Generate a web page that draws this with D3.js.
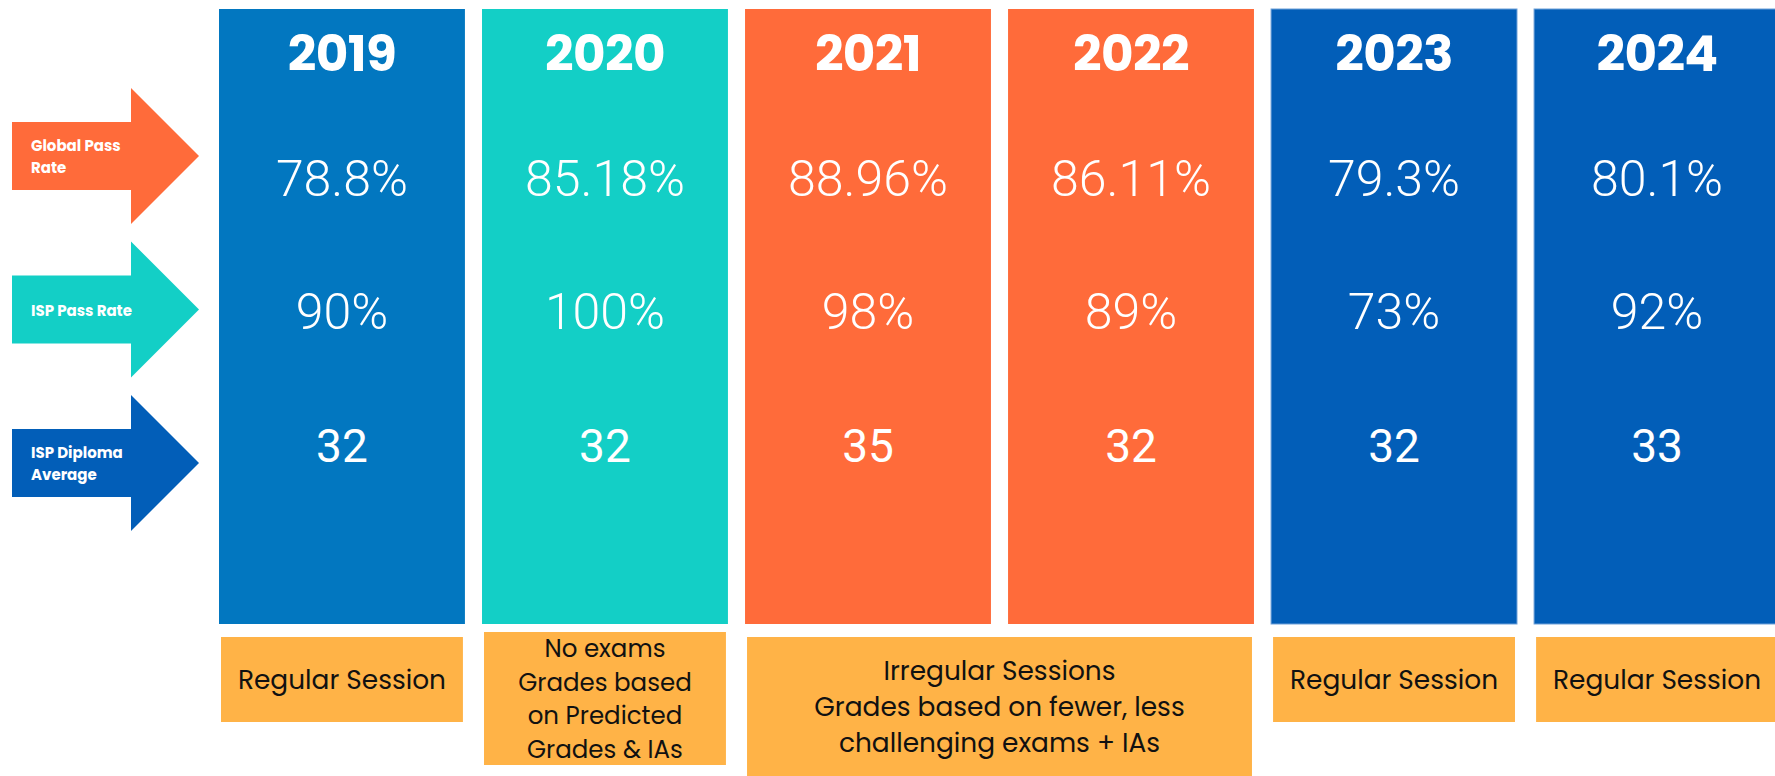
<!DOCTYPE html>
<html>
<head>
<meta charset="utf-8">
<script src="https://cdn.jsdelivr.net/npm/d3@7"></script>
<style>
  body { margin: 0; background: #fff; }
</style>
</head>
<body>
<div id="chart"></div>
<script>
// Data
const years = ["2019", "2020", "2021", "2022", "2023", "2024"];
const globalPassRate = [78.8, 85.18, 88.96, 86.11, 79.3, 80.1];
const ispPassRate = [90, 100, 98, 89, 73, 92];
const diplomaAverage = [32, 32, 35, 32, 32, 33];

const metrics = ["Global Pass Rate", "ISP Pass Rate", "ISP Diploma Average"];
const metricLines = [["Global Pass", "Rate"], ["ISP Pass Rate"], ["ISP Diploma", "Average"]];

const sessions = [
  { years: ["2019"], lines: ["Regular Session"] },
  { years: ["2020"], lines: ["No exams", "Grades based", "on Predicted", "Grades & IAs"] },
  { years: ["2021", "2022"], lines: ["Irregular Sessions", "Grades based on fewer, less", "challenging exams + IAs"] },
  { years: ["2023"], lines: ["Regular Session"] },
  { years: ["2024"], lines: ["Regular Session"] },
];

const yearColors = ["#0277c0", "#13cfc6", "#ff6b3a", "#ff6b3a", "#025eb8", "#025eb8"];
const metricColors = ["#ff6b3a", "#13cfc6", "#025eb8"];

// Dimensions
const dimensions = { width: 1775, height: 776 };

const svg = d3
  .select("#chart")
  .append("svg")
  .attr("width", dimensions.width)
  .attr("height", dimensions.height)
  .style("display", "block");

// Scales
const xScale = d3.scaleBand().domain(years).range([219, 1780]).paddingInner(0.065);
const rowScale = d3.scalePoint().domain(metrics).range([196, 462]);
const arrowScale = d3.scalePoint().domain(metrics).range([156, 463]);

const colTop = 9;
const colBottom = 624;

// Year columns
const cols = svg
  .selectAll("g.col")
  .data(years)
  .join("g")
  .attr("class", "col")
  .attr("transform", (d) => `translate(${xScale(d)},0)`);

cols
  .append("rect")
  .attr("y", colTop)
  .attr("width", xScale.bandwidth())
  .attr("height", colBottom - colTop)
  .attr("fill", (d, i) => yearColors[i])
  .attr("stroke", (d, i) => (i >= 4 ? "#6d9fd8" : "none"))
  .attr("stroke-width", 1);

cols
  .append("text")
  .attr("x", xScale.bandwidth() / 2)
  .attr("y", 71)
  .attr("text-anchor", "middle")
  .attr("fill", "#fff")
  .style("font-family", "Poppins, Roboto, sans-serif")
  .style("font-weight", 700)
  .style("font-size", "50px")
  .style("letter-spacing", "-0.6px")
  .text((d) => d);

const series = [
  globalPassRate.map((v) => v + "%"),
  ispPassRate.map((v) => v + "%"),
  diplomaAverage.map((v) => String(v)),
];

metrics.forEach((m, mi) => {
  cols
    .append("text")
    .attr("x", xScale.bandwidth() / 2)
    .attr("y", rowScale(m))
    .attr("text-anchor", "middle")
    .attr("fill", "#fff")
    .style("font-family", "Roboto, sans-serif")
    .style("font-weight", mi < 2 ? 300 : 400)
    .style("font-size", mi < 2 ? "50px" : "46px")
    .text((d, i) => series[mi][i]);
});

// Arrows
const arrowPoints = (c) => [
  [12, c - 34], [131, c - 34], [131, c - 68], [199, c],
  [131, c + 68], [131, c + 34], [12, c + 34],
];
const arrowLine = d3.line().curve(d3.curveLinearClosed);

const arrows = svg.selectAll("g.arrow").data(metrics).join("g").attr("class", "arrow");

arrows
  .append("path")
  .attr("d", (d) => arrowLine(arrowPoints(arrowScale(d))))
  .attr("fill", (d, i) => metricColors[i]);

arrows
  .append("text")
  .attr("fill", "#fff")
  .style("font-family", "Poppins, Roboto, sans-serif")
  .style("font-weight", 700)
  .style("font-size", "15px")
  .each(function (d, i) {
    const lines = metricLines[i];
    const c = arrowScale(d);
    const first = lines.length === 1 ? c + 6 : c - 5;
    d3.select(this)
      .selectAll("tspan")
      .data(lines)
      .join("tspan")
      .attr("x", 31)
      .attr("y", (l, j) => first + j * 22)
      .text((l) => l);
  });

// Session boxes
const boxTop = 637;

const boxes = svg.selectAll("g.session").data(sessions).join("g").attr("class", "session");

boxes.each(function (s) {
  const g = d3.select(this);
  const n = s.lines.length;
  const x0 = xScale(s.years[0]) + 2;
  const x1 = xScale(s.years[s.years.length - 1]) + xScale.bandwidth() - 2;
  const top = n > 3 ? boxTop - 5 : boxTop;
  const h = n === 1 ? 85 : n > 3 ? 133 : 139;
  const lineHeight = n > 3 ? 33.5 : 36;
  const fontSize = n > 3 ? 24.5 : 26.4;
  g.append("rect")
    .attr("x", x0)
    .attr("y", top)
    .attr("width", x1 - x0)
    .attr("height", h)
    .attr("fill", "#ffb347");
  const center = top + h / 2;
  const first = center - ((n - 1) * lineHeight) / 2 + fontSize * 0.36;
  g.append("text")
    .attr("text-anchor", "middle")
    .attr("fill", "#111")
    .style("font-family", "Poppins, 'Open Sans', sans-serif")
    .style("font-size", fontSize + "px")
    .selectAll("tspan")
    .data(s.lines)
    .join("tspan")
    .attr("x", (x0 + x1) / 2)
    .attr("y", (l, j) => first + j * lineHeight)
    .text((l) => l);
});
</script>
</body>
</html>
